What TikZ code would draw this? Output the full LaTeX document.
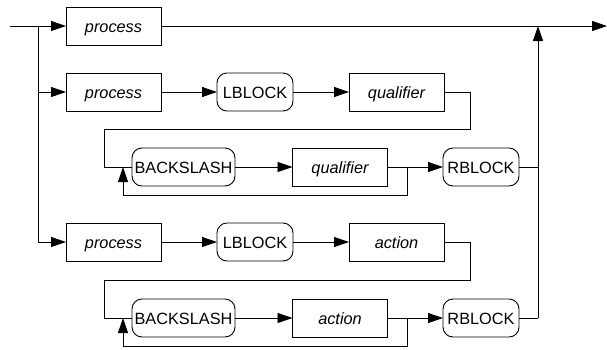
\documentclass[tikz,border=0pt]{standalone}
\usepackage{fontspec}
\setmainfont{Liberation Sans}
\usetikzlibrary{arrows.meta}
\begin{document}
\begin{tikzpicture}[x=1pt,y=-1pt,
  line width=0.9pt,
  font=\fontsize{16.3}{19}\selectfont,
  every node/.style={inner sep=0pt,outer sep=0pt,minimum height=38pt,
    text height=12pt,text depth=0pt,draw,fill=white},
  proc/.style={rectangle,minimum width=95pt,font=\fontsize{16.3}{19}\selectfont\itshape},
  term/.style={rectangle,rounded corners=10pt,minimum width=76pt},
  wide/.style={term,minimum width=103pt},
  flow/.style={-{Triangle[length=15pt,width=10pt]}},
]
\useasboundingbox (0,0) rectangle (607,349);

% entry and exit of the main track
\coordinate (start) at (10,26);
\coordinate (split) at (38,26);
\coordinate (finish) at (607,26);
\coordinate (join) at (538,26);

% first alternative
\node[proc] (p1) at (113.5,26) {process};

% second alternative
\node[proc] (p2) at (113.5,92) {process};
\node[term] (l2) at (255,92) {LBLOCK};
\node[proc] (q2) at (396.5,92) {qualifier};
\node[wide] (b3) at (183.5,167) {BACKSLASH};
\node[proc] (q3) at (340,167) {qualifier};
\node[term] (r3) at (481,167) {RBLOCK};

% third alternative
\node[proc] (p4) at (113.5,242) {process};
\node[term] (l4) at (255,242) {LBLOCK};
\node[proc] (a4) at (396.5,242) {action};
\node[wide] (b5) at (183.5,318) {BACKSLASH};
\node[proc] (a5) at (340,318) {action};
\node[term] (r5) at (481,318) {RBLOCK};

% helper points for the wrap-around lines and loops
\coordinate (w2a) at (470,92);
\coordinate (w2b) at (470,129);
\coordinate (w2c) at (104,129);
\coordinate (w2d) at (104,167);
\coordinate (lp3a) at (407,167);
\coordinate (lp3b) at (407,195);
\coordinate (lp3c) at (123,195);
\coordinate (lp3d) at (123,167);
\coordinate (r3e) at (538,167);

\coordinate (w4a) at (470,242);
\coordinate (w4b) at (470,280);
\coordinate (w4c) at (104,280);
\coordinate (w4d) at (104,318);
\coordinate (lp5a) at (407,318);
\coordinate (lp5b) at (407,346);
\coordinate (lp5c) at (123,346);
\coordinate (lp5d) at (123,318);
\coordinate (r5e) at (538,318);

% main track
\draw[flow] (start) -- (p1);
\draw[flow] (p1) -- (finish);
\draw[flow] (split) |- (p2);
\draw[flow] (split) |- (p4);

% second alternative
\draw[flow] (p2) -- (l2);
\draw[flow] (l2) -- (q2);
\draw (q2) -- (w2a) -- (w2b) -- (w2c) -- (w2d) -- (b3);
\draw[flow] (b3) -- (q3);
\draw[flow] (q3) -- (r3);
\draw[flow] (lp3a) -- (lp3b) -- (lp3c) -- (lp3d);
\draw (r3) -- (r3e);

% third alternative
\draw[flow] (p4) -- (l4);
\draw[flow] (l4) -- (a4);
\draw (a4) -- (w4a) -- (w4b) -- (w4c) -- (w4d) -- (b5);
\draw[flow] (b5) -- (a5);
\draw[flow] (a5) -- (r5);
\draw[flow] (lp5a) -- (lp5b) -- (lp5c) -- (lp5d);
\draw (r5) -- (r5e);
\draw[flow] (r5e) -- (join);
\end{tikzpicture}
\end{document}
